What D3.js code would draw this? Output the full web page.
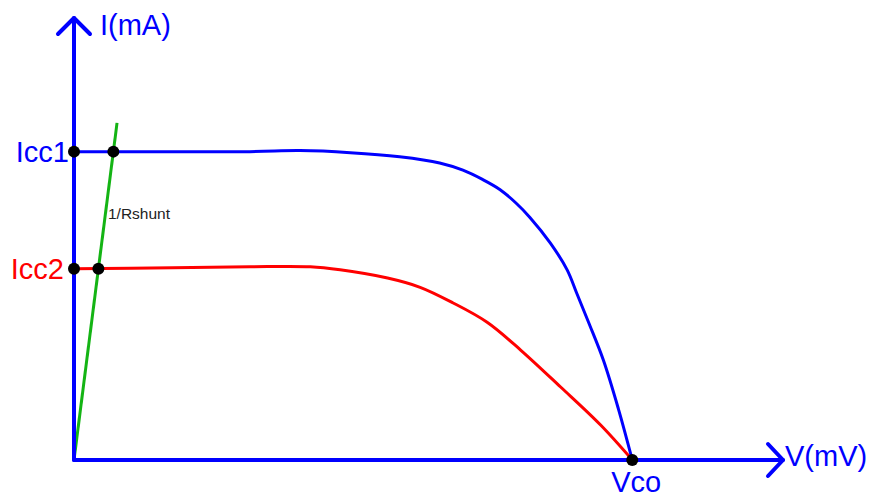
<!DOCTYPE html>
<html>
<head>
<meta charset="utf-8">
<script src="https://cdn.jsdelivr.net/npm/d3@7"></script>
<style>
  html, body { margin: 0; padding: 0; background: #fff; }
  svg { display: block; }
  text { font-family: "Liberation Sans", Arial, sans-serif; }
</style>
</head>
<body>
<svg id="chart" width="872" height="498"></svg>
<script>
// I–V characteristics of a cell at two illumination levels (V in mV, I in mA)
const vMax = 762;           // end of the voltage axis
const iMax = 4.3;           // end of the current axis
const vco = 600;            // open-circuit voltage
const icc1 = 3.0;           // short-circuit current, curve 1
const icc2 = 1.86;          // short-circuit current, curve 2
const rShunt = 14.1;        // shunt resistance (mV/mA), slope of the green line
const shuntTopI = 3.28;     // where the shunt line ends

const curve1V = [0, 189, 243, 297, 350, 393, 418, 439, 458, 475, 490, 512, 530, 540, 553, 569, 585, 600];
const curve1I = [3.00, 3.00, 3.01, 2.99, 2.95, 2.89, 2.82, 2.73, 2.63, 2.50, 2.36, 2.11, 1.85, 1.63, 1.34, 0.97, 0.50, 0];

const curve2V = [0, 106, 189, 254, 286, 337, 372, 407, 444, 480, 523, 566, 600];
const curve2I = [1.86, 1.87, 1.88, 1.88, 1.85, 1.77, 1.68, 1.53, 1.34, 1.07, 0.71, 0.34, 0];

const svg = d3.select("#chart");

const x = d3.scaleLinear().domain([0, vMax]).range([74, 783]);
const y = d3.scaleLinear().domain([0, iMax]).range([460, 18]);

const line = d3.line()
  .x(d => x(d[0]))
  .y(d => y(d[1]))
  .curve(d3.curveCatmullRom.alpha(0.5));

const pts1 = curve1V.map((v, i) => [v, curve1I[i]]);
const pts2 = curve2V.map((v, i) => [v, curve2I[i]]);

// shunt-resistance line through the origin
svg.append("line")
  .attr("x1", x(0)).attr("y1", y(0))
  .attr("x2", x(shuntTopI * rShunt)).attr("y2", y(shuntTopI))
  .attr("stroke", "#14b414").attr("stroke-width", 3);

// curves
svg.append("path").datum(pts1).attr("d", line)
  .attr("fill", "none").attr("stroke", "#0000ff").attr("stroke-width", 3);
svg.append("path").datum(pts2).attr("d", line)
  .attr("fill", "none").attr("stroke", "#ff0000").attr("stroke-width", 3);

// axes with arrowheads
const blue = "#0000ff";
const axisG = svg.append("g").attr("stroke", blue).attr("stroke-width", 4)
  .attr("fill", "none").attr("stroke-linecap", "round").attr("stroke-linejoin", "round");
axisG.append("line").attr("x1", x(0)).attr("y1", y(0)).attr("x2", x(0)).attr("y2", y(iMax));
axisG.append("line").attr("x1", x(0)).attr("y1", y(0)).attr("x2", x(vMax)).attr("y2", y(0));
axisG.append("polyline").attr("points", [
  [x(0) - 16, y(iMax) + 16], [x(0), y(iMax)], [x(0) + 16, y(iMax) + 16]
].map(p => p.join(",")).join(" "));
axisG.append("polyline").attr("points", [
  [x(vMax) - 15, y(0) - 16], [x(vMax), y(0)], [x(vMax) - 15, y(0) + 16]
].map(p => p.join(",")).join(" "));

// marked points
const dots = [
  [0, icc1], [icc1 * rShunt, icc1],
  [0, icc2], [icc2 * rShunt, icc2],
  [vco, 0]
];
svg.selectAll("circle.pt").data(dots).join("circle")
  .attr("class", "pt")
  .attr("cx", d => x(d[0])).attr("cy", d => y(d[1]))
  .attr("r", 6).attr("fill", "#000");

// labels
svg.append("text").attr("x", 100).attr("y", 35)
  .attr("font-size", 29).attr("fill", blue).text("I(mA)");
svg.append("text").attr("x", 785).attr("y", y(0) + 6)
  .attr("font-size", 29).attr("fill", blue).text("V(mV)");
svg.append("text").attr("x", x(0) - 5).attr("y", y(icc1) + 10)
  .attr("text-anchor", "end").attr("font-size", 29).attr("fill", blue).text("Icc1");
svg.append("text").attr("x", x(0) - 10).attr("y", y(icc2) + 10)
  .attr("text-anchor", "end").attr("font-size", 29).attr("fill", "#ff0000").text("Icc2");
svg.append("text").attr("x", x(vco) + 4).attr("y", y(0) + 32)
  .attr("text-anchor", "middle").attr("font-size", 29).attr("fill", blue).text("Vco");
svg.append("text").attr("x", 108).attr("y", 219)
  .attr("font-size", 15.5).attr("fill", "#222").text("1/Rshunt");
</script>
</body>
</html>
